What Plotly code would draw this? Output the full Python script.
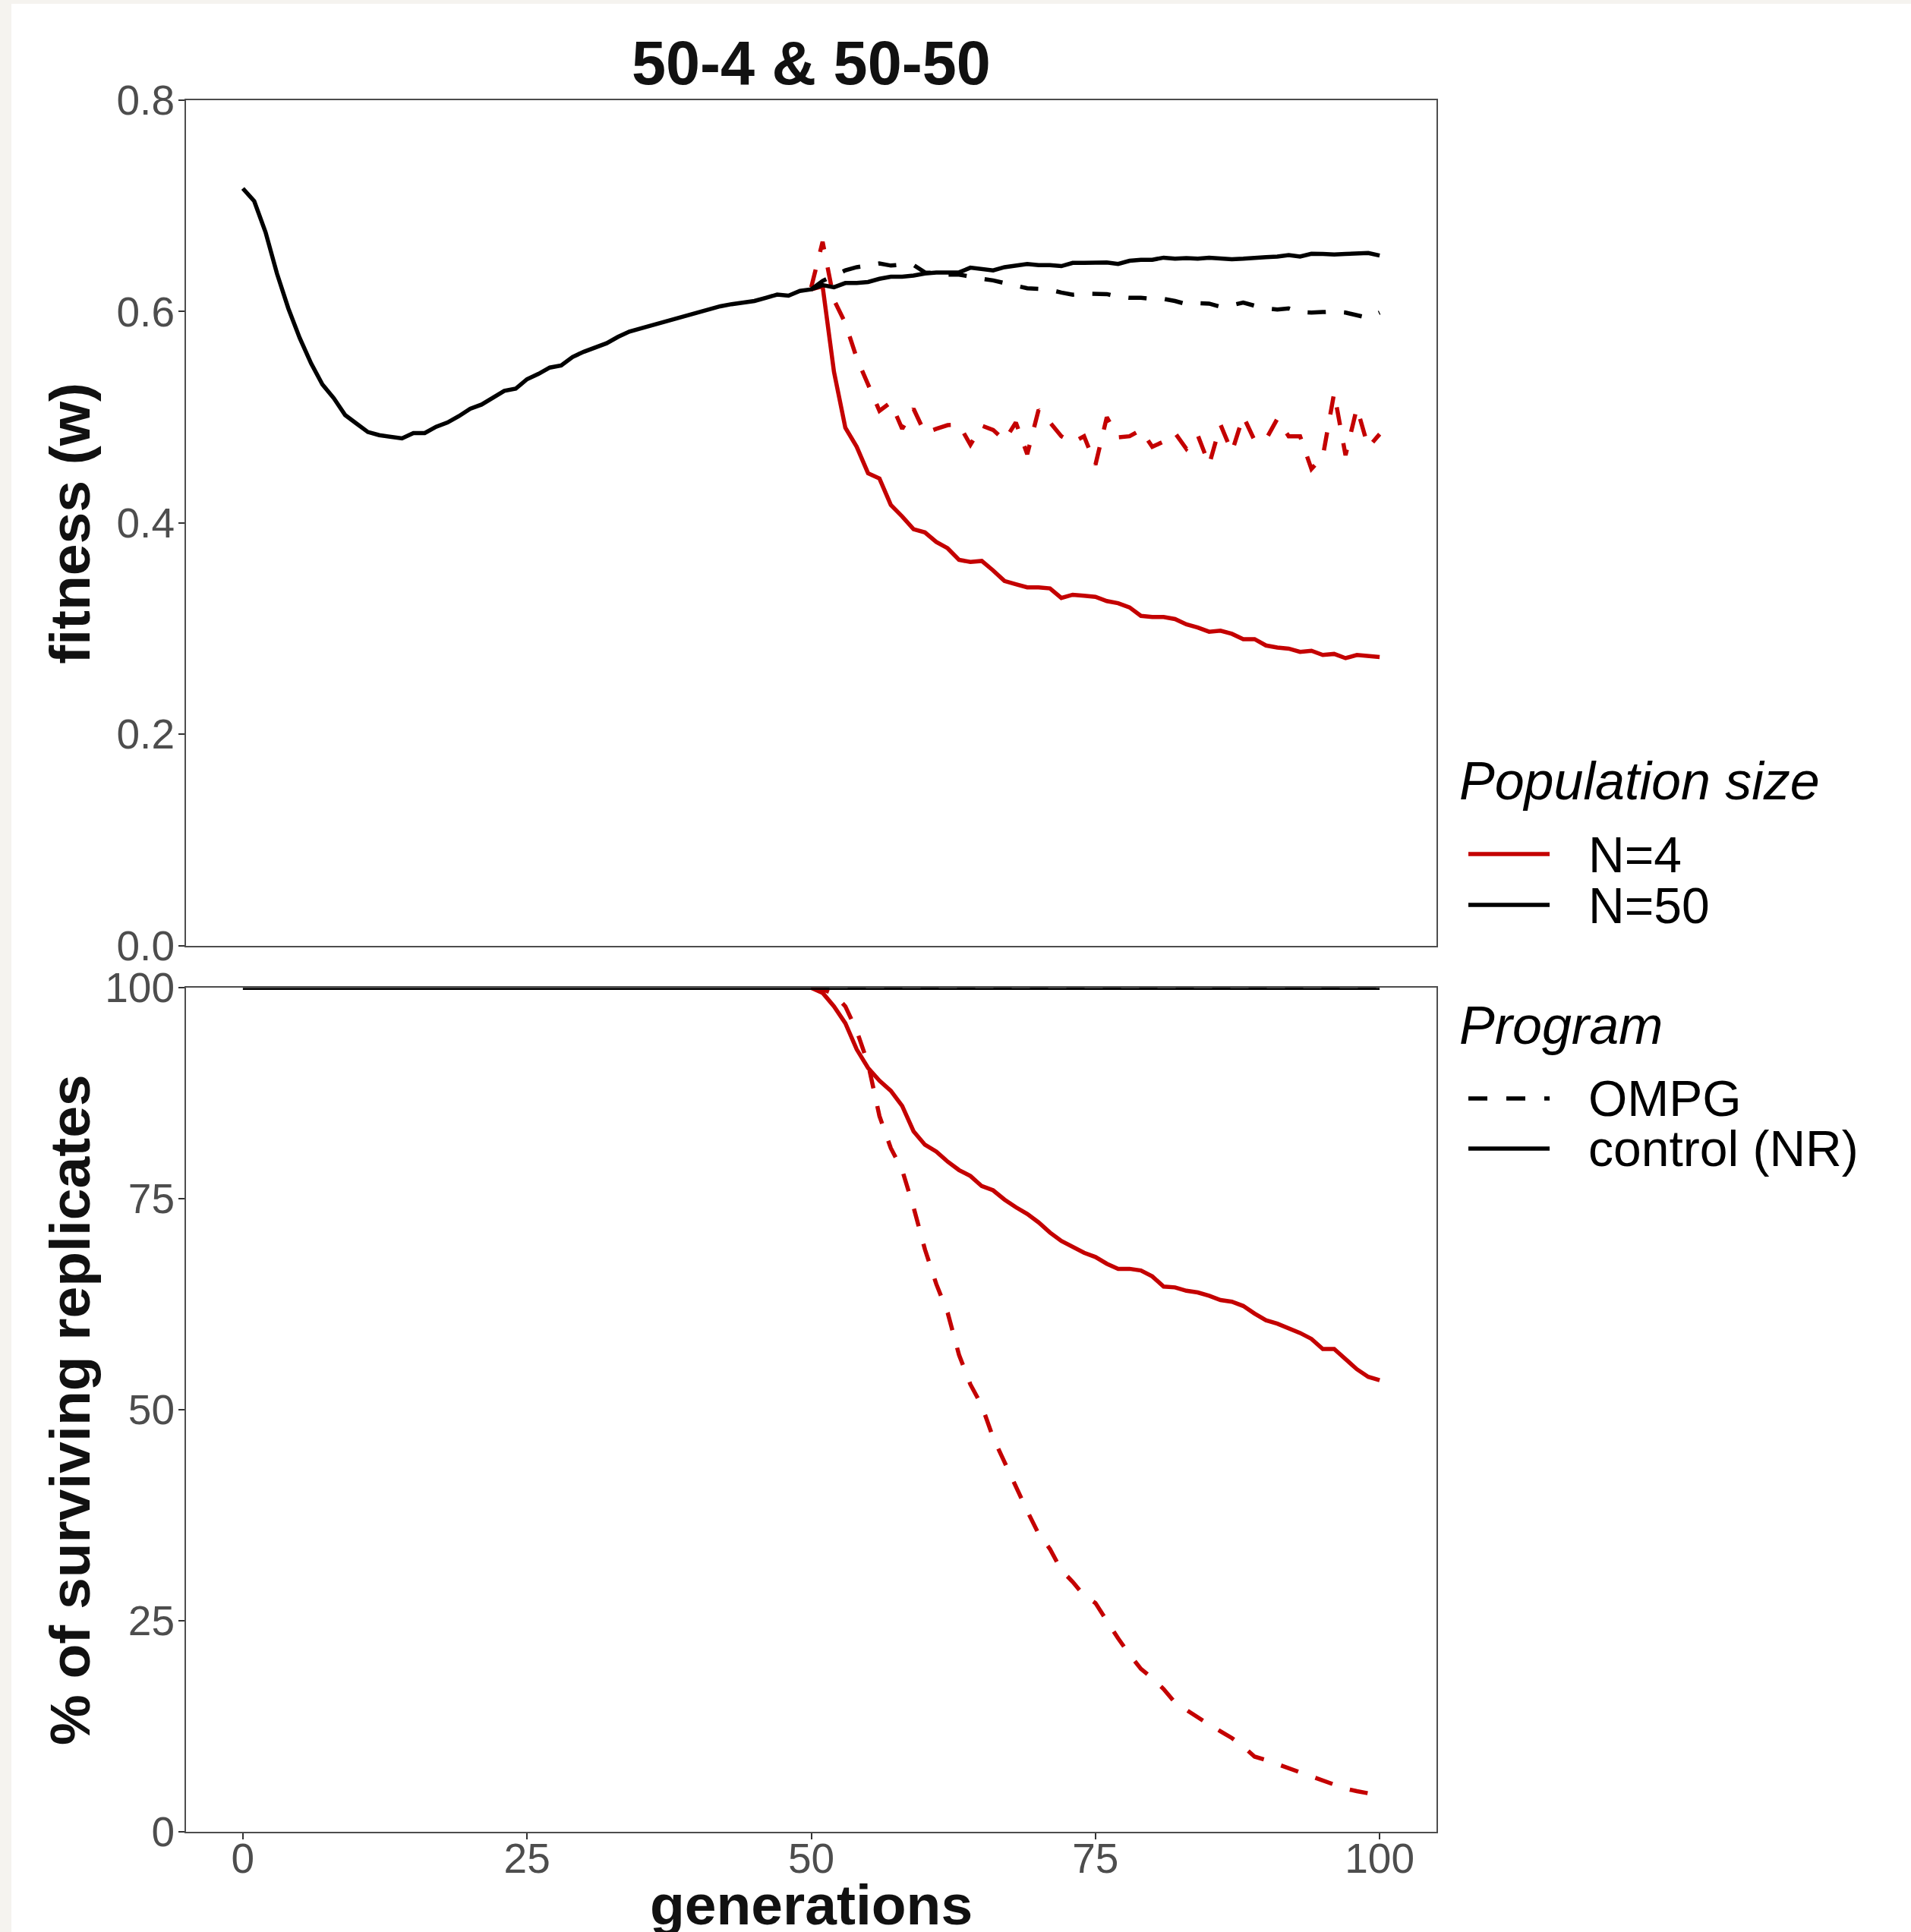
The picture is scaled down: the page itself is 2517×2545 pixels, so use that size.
import plotly.graph_objects as go

# ---------------- data ----------------
gen_all = list(range(0, 101))
gen_late = list(range(50, 101))

fit_n50_control = [
    0.7165, 0.7045, 0.675, 0.636, 0.603, 0.575, 0.551, 0.531, 0.518, 0.502,
    0.494, 0.486, 0.483, 0.482, 0.480, 0.485, 0.485, 0.491, 0.495, 0.501,
    0.508, 0.512, 0.519, 0.525, 0.527, 0.536, 0.541, 0.547, 0.549, 0.557,
    0.562, 0.566, 0.570, 0.576, 0.581, 0.584, 0.587, 0.591, 0.594, 0.597,
    0.599, 0.602, 0.605, 0.607, 0.608, 0.610, 0.613, 0.616, 0.615, 0.6195,
    0.621, 0.625, 0.623, 0.627, 0.627, 0.628, 0.631, 0.633, 0.633, 0.634,
    0.636, 0.637, 0.637, 0.637, 0.6415, 0.640, 0.639, 0.642, 0.643, 0.645,
    0.644, 0.644, 0.643, 0.646, 0.646, 0.646, 0.6465, 0.645, 0.648, 0.649,
    0.649, 0.651, 0.650, 0.6505, 0.650, 0.651, 0.650, 0.6495, 0.650, 0.651,
    0.6515, 0.652, 0.6535, 0.652, 0.6547, 0.6545, 0.654, 0.6545, 0.655, 0.6554,
    0.653,
]

fit_n50_ompg = [
    0.621, 0.629, 0.634, 0.639, 0.642, 0.644, 0.6455, 0.6435, 0.6445, 0.644,
    0.637, 0.6365, 0.635, 0.635, 0.6325, 0.631, 0.6295, 0.627, 0.6255, 0.622,
    0.6215, 0.6205, 0.618, 0.616, 0.617, 0.617, 0.6165, 0.614, 0.613, 0.613,
    0.612, 0.612, 0.610, 0.607, 0.608, 0.6075, 0.6045, 0.606, 0.6085, 0.6055,
    0.603, 0.602, 0.603, 0.5995, 0.599, 0.5995, 0.600, 0.599, 0.597, 0.594,
    0.599,
]

fit_n4_control = [
    0.621, 0.624, 0.543, 0.490, 0.472, 0.447, 0.442, 0.417, 0.406, 0.394,
    0.391, 0.382, 0.376, 0.365, 0.363, 0.364, 0.355, 0.345, 0.342, 0.339,
    0.339, 0.338, 0.329, 0.332, 0.331, 0.330, 0.326, 0.324, 0.320, 0.312,
    0.311, 0.311, 0.309, 0.304, 0.301, 0.297, 0.298, 0.295, 0.290, 0.290,
    0.284, 0.282, 0.281, 0.278, 0.279, 0.275, 0.276, 0.272, 0.275, 0.274,
    0.273,
]

fit_n4_ompg = [
    0.623, 0.666, 0.611, 0.589, 0.556, 0.531, 0.506, 0.514, 0.489, 0.508,
    0.485, 0.489, 0.4925, 0.493, 0.474, 0.492, 0.488, 0.478, 0.495, 0.465,
    0.507, 0.495, 0.482, 0.476, 0.482, 0.455, 0.500, 0.481, 0.482, 0.488,
    0.472, 0.477, 0.485, 0.470, 0.483, 0.455, 0.493, 0.467, 0.501, 0.478,
    0.479, 0.4985, 0.482, 0.482, 0.451, 0.4626, 0.523, 0.464, 0.509, 0.4715,
    0.484,
]

surv_n50_control = [100.0] * 101
surv_n50_ompg = [100.0] * 51

surv_n4_control = [
    100.0, 99.4, 97.8, 95.8, 92.7, 90.5, 89.0, 87.8, 86.0, 83.0,
    81.4, 80.6, 79.4, 78.4, 77.7, 76.5, 76.0, 74.9, 74.0, 73.2,
    72.2, 71.0, 70.0, 69.3, 68.6, 68.1, 67.3, 66.7, 66.7, 66.5,
    65.8, 64.6, 64.5, 64.1, 63.9, 63.5, 63.0, 62.8, 62.3, 61.4,
    60.6, 60.2, 59.7, 59.1, 58.4, 57.2, 57.2, 56.0, 54.8, 53.9,
    53.5,
]

surv_n4_ompg = [
    100.0, 99.8, 99.3, 97.8, 94.9, 91.0, 84.8, 81.0, 78.4, 74.0,
    69.0, 64.9, 61.5, 56.5, 53.0, 50.5, 46.7, 43.9, 40.9, 38.0,
    35.3, 33.5, 31.0, 29.6, 28.0, 27.1, 24.9, 22.9, 21.0, 19.3,
    18.2, 16.9, 15.3, 14.4, 13.6, 12.7, 11.9, 11.1, 10.1, 8.9,
    8.5, 8.0, 7.5, 7.1, 6.6, 6.1, 5.5, 5.1, 4.8, 4.5,
    4.3,
]

x_ticks = [0, 25, 50, 75, 100]
fit_ticks = [0.0, 0.2, 0.4, 0.6, 0.8]
fit_tick_text = ["0.0", "0.2", "0.4", "0.6", "0.8"]
surv_ticks = [0, 25, 50, 75, 100]

title_text = "50-4 & 50-50"
y1_title = "fitness (w)"
y2_title = "% of surviving replicates"
x_title = "generations"
legend1_title = "Population size"
legend1_labels = ["N=4", "N=50"]
legend2_title = "Program"
legend2_labels = ["OMPG", "control (NR)"]

# ---------------- styling ----------------
W, H = 2517, 2545
RED = "#C40000"
BLACK = "#000000"
FONT = "Liberation Sans, Arial, sans-serif"
LW = 5.5
DASH = "24px,24px"


def fx(px):
    return px / W


def fy(py):
    return 1 - py / H


# panel geometry (pixels)
PL, PR = 245, 1892
T1, B1 = 132, 1245.6
T2, B2 = 1301.2, 2412.9

fig = go.Figure()


def add_line(x, y, color, dash, xa, ya, width=LW):
    fig.add_trace(go.Scatter(
        x=x, y=y, mode="lines", xaxis=xa, yaxis=ya, showlegend=False,
        line=dict(color=color, width=width, dash=dash), hoverinfo="skip",
    ))


# top panel
add_line(gen_late, fit_n4_control, RED, "solid", "x", "y")
add_line(gen_late, fit_n4_ompg, RED, DASH, "x", "y")
add_line(gen_all, fit_n50_control, BLACK, "solid", "x", "y")
add_line(gen_late, fit_n50_ompg, BLACK, DASH, "x", "y")
# bottom panel (N=50 OMPG lies under the N=50 control line at 100 %)
add_line(gen_late, surv_n50_ompg, BLACK, DASH, "x2", "y2", width=LW - 2)
add_line(gen_late, surv_n4_control, RED, "solid", "x2", "y2")
add_line(gen_late, surv_n4_ompg, RED, DASH, "x2", "y2")
add_line(gen_all, surv_n50_control, BLACK, "solid", "x2", "y2")

axis_common = dict(
    showgrid=False, zeroline=False, showline=True, linecolor="#4d4d4d",
    linewidth=2, mirror=True, automargin=False,
    tickfont=dict(family=FONT, size=55, color="#4d4d4d"),
    ticks="outside", ticklen=8, tickwidth=2, tickcolor="#333333",
)

fig.update_layout(
    width=W, height=H, autosize=False,
    margin=dict(l=0, r=0, t=0, b=0, pad=0),
    paper_bgcolor="white", plot_bgcolor="white",
    showlegend=False,
    xaxis=dict(axis_common, domain=[fx(PL), fx(PR)], range=[-5, 105],
               anchor="y", showticklabels=False, ticks="", matches="x2"),
    yaxis=dict(axis_common, domain=[fy(B1), fy(T1)], range=[0, 0.8],
               anchor="x", tickvals=fit_ticks, ticktext=fit_tick_text,
               ticklabelstandoff=-6),
    xaxis2=dict(axis_common, domain=[fx(PL), fx(PR)], range=[-5, 105],
                anchor="y2", tickvals=x_ticks, ticklabelstandoff=-22),
    yaxis2=dict(axis_common, domain=[fy(B2), fy(T2)], range=[0, 100],
                anchor="x2", tickvals=surv_ticks, ticklabelstandoff=-6),
)

shapes = [
    # light page-edge strips
    dict(type="rect", xref="paper", yref="paper", x0=0, x1=fx(15), y0=0, y1=1,
         fillcolor="#f5f3ef", line=dict(width=0), layer="below"),
    dict(type="rect", xref="paper", yref="paper", x0=0, x1=1, y0=fy(5), y1=1,
         fillcolor="#f5f3ef", line=dict(width=0), layer="below"),
]

# legend keys
KX0, KX1 = 1934, 2041
legend_keys = [
    (1125, RED, "solid"),
    (1192, BLACK, "solid"),
    (1447, BLACK, "25px,25px"),
    (1513, BLACK, "solid"),
]
for ky, col, dsh in legend_keys:
    shapes.append(dict(type="line", xref="paper", yref="paper",
                       x0=fx(KX0), x1=fx(KX1), y0=fy(ky), y1=fy(ky),
                       line=dict(color=col, width=5.5, dash=dsh)))

annotations = [
    dict(text=title_text, x=fx((PL + PR) / 2), y=fy(83), xanchor="center",
         yanchor="middle", font=dict(family=FONT, size=81, color="#111111",
                                     weight="bold")),
    dict(text=y1_title, x=fx(92), y=fy((T1 + B1) / 2), textangle=-90,
         xanchor="center", yanchor="middle",
         font=dict(family=FONT, size=75, color="#111111", weight="bold")),
    dict(text=y2_title, x=fx(92), y=fy((T2 + B2) / 2), textangle=-90,
         xanchor="center", yanchor="middle",
         font=dict(family=FONT, size=75, color="#111111", weight="bold")),
    dict(text=x_title, x=fx((PL + PR) / 2), y=fy(2509), xanchor="center",
         yanchor="middle",
         font=dict(family=FONT, size=75, color="#111111", weight="bold")),
    dict(text=legend1_title, x=fx(1920), y=fy(1029), xanchor="left",
         yanchor="middle", font=dict(family=FONT, size=70, color="black",
                                     style="italic")),
    dict(text=legend2_title, x=fx(1920), y=fy(1351), xanchor="left",
         yanchor="middle", font=dict(family=FONT, size=70, color="black",
                                     style="italic")),
]
label_pos = [(legend1_labels[0], 1126), (legend1_labels[1], 1193),
             (legend2_labels[0], 1447), (legend2_labels[1], 1513)]
for txt, ly in label_pos:
    annotations.append(dict(text=txt, x=fx(2090), y=fy(ly), xanchor="left",
                            yanchor="middle",
                            font=dict(family=FONT, size=66, color="black")))

for a in annotations:
    a.update(xref="paper", yref="paper", showarrow=False)

fig.update_layout(shapes=shapes, annotations=annotations)

fig.write_html("out.html", config={"displayModeBar": False},
               post_script="document.body.style.margin='0';")
